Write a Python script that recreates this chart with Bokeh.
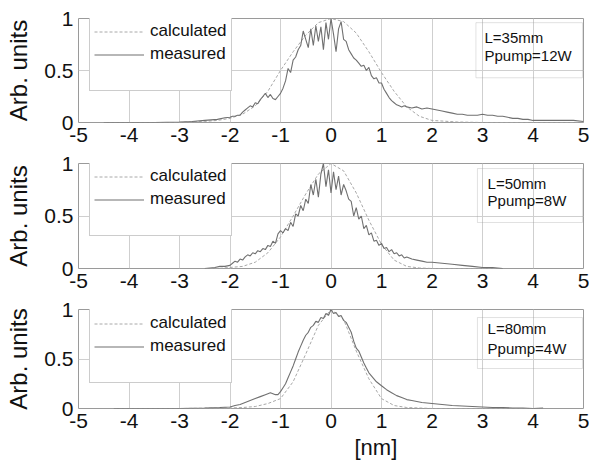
from bokeh.plotting import figure
from bokeh.layouts import column
from bokeh.models import (FixedTicker, Legend, LegendItem, Label, BoxAnnotation, Title)
from bokeh.embed import file_html
from bokeh.resources import INLINE

# ---------------- data ----------------
x_ticks = [-5, -4, -3, -2, -1, 0, 1, 2, 3, 4, 5]
x_tick_labels = ["-5", "-4", "-3", "-2", "-1", "0", "1", "2", "3", "4", "5"]
y_ticks = [0, 0.5, 1]
y_tick_labels = ["0", "0.5", "1"]
legend_labels = ["calculated", "measured"]
notes = [("L=35mm", "Ppump=12W"), ("L=50mm", "Ppump=8W"), ("L=80mm", "Ppump=4W")]
x_label = "[nm]"
y_label = "Arb. units"

# panel 1 (L=35mm)
meas1_x = [-4.5, -4.0, -3.5, -3.0, -2.75, -2.5, -2.25, -2.1,
           -2.00, -1.95, -1.90, -1.85, -1.80, -1.75, -1.70, -1.65, -1.60, -1.55,
           -1.50, -1.45, -1.40, -1.35, -1.30, -1.25, -1.20, -1.15, -1.10, -1.05,
           -1.00, -0.95, -0.90, -0.85, -0.80, -0.75, -0.70, -0.65, -0.60, -0.55,
           -0.50, -0.45, -0.40, -0.35, -0.30, -0.25, -0.20, -0.15, -0.10, -0.05,
           0.00, 0.05, 0.10, 0.15, 0.20, 0.25, 0.30, 0.35, 0.40, 0.45,
           0.50, 0.55, 0.60, 0.65, 0.70, 0.75, 0.80, 0.85, 0.90, 0.95,
           1.00, 1.05, 1.10, 1.15, 1.20, 1.25, 1.30, 1.35, 1.40, 1.45, 1.50,
           1.6, 1.7, 1.8, 1.9, 2.0, 2.1, 2.2, 2.3, 2.4, 2.5, 2.6, 2.7, 2.8, 2.9,
           3.0, 3.1, 3.2, 3.3, 3.4, 3.5, 3.6, 3.7, 3.8, 3.9, 4.0, 4.2, 4.4, 4.6, 4.8, 5.0]
meas1_y = [0.0, 0.0, 0.0, 0.005, 0.01, 0.02, 0.03, 0.045,
           0.05, 0.06, 0.06, 0.07, 0.07, 0.10, 0.12, 0.14, 0.16, 0.15,
           0.19, 0.18, 0.22, 0.25, 0.28, 0.24, 0.27, 0.23, 0.22, 0.25,
           0.28, 0.33, 0.40, 0.52, 0.48, 0.60, 0.63, 0.70, 0.74, 0.88,
           0.80, 0.72, 0.90, 0.74, 0.93, 0.78, 0.92, 0.70, 0.96, 0.80,
           1.00, 0.85, 0.68, 0.90, 0.97, 0.80, 0.78, 0.70, 0.66, 0.62,
           0.60, 0.57, 0.54, 0.55, 0.50, 0.53, 0.45, 0.42, 0.43, 0.38,
           0.38, 0.32, 0.28, 0.24, 0.21, 0.19, 0.17, 0.16, 0.15, 0.16, 0.15,
           0.14, 0.15, 0.13, 0.14, 0.13, 0.12, 0.11, 0.10, 0.09, 0.08, 0.08, 0.07, 0.07, 0.07,
           0.08, 0.07, 0.07, 0.06, 0.06, 0.05, 0.04, 0.04, 0.03, 0.03, 0.02, 0.02, 0.02, 0.02, 0.02, 0.01]
calc1_x = [-4.5, -4.0, -3.5, -3.0, -2.5, -2.25, -2.0, -1.75, -1.5, -1.25, -1.0, -0.75,
           -0.5, -0.25, 0.0, 0.25, 0.5, 0.75, 1.0, 1.25, 1.5, 1.75, 2.0, 2.5, 3.0,
           3.5, 4.0, 4.5, 5.0]
calc1_y = [0.0, 0.0, 0.0, 0.0, 0.01, 0.02, 0.04, 0.08, 0.16, 0.30, 0.50, 0.68,
           0.84, 0.96, 1.00, 0.97, 0.86, 0.68, 0.48, 0.30, 0.15, 0.06, 0.02, 0.005, 0.0,
           0.0, 0.0, 0.0, 0.0]

# panel 2 (L=50mm)
meas2_x = [-2.5, -2.3, -2.2, -2.1,
           -2.00, -1.95, -1.90, -1.85, -1.80, -1.75, -1.70, -1.65, -1.60, -1.55,
           -1.50, -1.45, -1.40, -1.35, -1.30, -1.25, -1.20, -1.15, -1.10, -1.05,
           -1.00, -0.95, -0.90, -0.85, -0.80, -0.75, -0.70, -0.65, -0.60, -0.55,
           -0.50, -0.45, -0.40, -0.35, -0.30, -0.25, -0.20, -0.15, -0.10, -0.05,
           0.00, 0.05, 0.10, 0.15, 0.20, 0.25, 0.30, 0.35, 0.40, 0.45,
           0.50, 0.55, 0.60, 0.65, 0.70, 0.75, 0.80, 0.85, 0.90, 0.95,
           1.00, 1.05, 1.10, 1.15, 1.20, 1.25, 1.30, 1.35, 1.40, 1.45, 1.50,
           1.6, 1.7, 1.8, 1.9, 2.0, 2.2, 2.4, 2.6, 2.8, 3.0, 3.2, 3.4]
meas2_y = [0.0, 0.01, 0.02, 0.02,
           0.03, 0.05, 0.07, 0.06, 0.09, 0.08, 0.11, 0.13, 0.12, 0.15,
           0.14, 0.17, 0.16, 0.19, 0.18, 0.22, 0.21, 0.26, 0.24, 0.33,
           0.36, 0.34, 0.38, 0.36, 0.44, 0.40, 0.52, 0.50, 0.60, 0.55,
           0.66, 0.62, 0.80, 0.70, 0.85, 0.68, 0.90, 1.00, 0.78, 0.94,
           0.72, 0.92, 0.75, 0.88, 0.70, 0.80, 0.74, 0.66, 0.64, 0.50,
           0.58, 0.47, 0.50, 0.38, 0.41, 0.32, 0.34, 0.26, 0.27, 0.22,
           0.24, 0.19, 0.20, 0.16, 0.18, 0.14, 0.15, 0.12, 0.13, 0.10, 0.11,
           0.09, 0.08, 0.07, 0.06, 0.06, 0.05, 0.04, 0.03, 0.02, 0.01, 0.01, 0.0]
calc2_x = [-2.5, -2.25, -2.0, -1.75, -1.5, -1.25, -1.0, -0.75, -0.5, -0.25, 0.0,
           0.25, 0.5, 0.75, 1.0, 1.25, 1.5, 1.75, 2.0, 2.5, 3.0, 3.3]
calc2_y = [0.0, 0.0, 0.01, 0.02, 0.06, 0.15, 0.30, 0.50, 0.71, 0.90, 1.00,
           0.93, 0.72, 0.46, 0.23, 0.08, 0.02, 0.005, 0.0, 0.0, 0.0, 0.0]

# panel 3 (L=80mm)
meas3_x = [-4.3, -4.0, -3.5, -3.0, -2.5, -2.2, -2.0,
           -1.90, -1.80, -1.70, -1.60, -1.50, -1.40, -1.30, -1.20, -1.15, -1.10,
           -1.05, -1.00, -0.95, -0.90, -0.85, -0.80, -0.75, -0.70, -0.65, -0.60,
           -0.55, -0.50, -0.45, -0.40, -0.35, -0.30, -0.25, -0.20, -0.15, -0.10,
           -0.05, 0.00, 0.05, 0.10, 0.15, 0.20, 0.25, 0.30, 0.35, 0.40,
           0.45, 0.50, 0.55, 0.60, 0.65, 0.70, 0.75, 0.80, 0.85, 0.90,
           0.95, 1.00, 1.10, 1.20, 1.30, 1.40, 1.50,
           1.6, 1.8, 2.0, 2.2, 2.4, 2.6, 2.8, 3.0, 3.2, 3.4, 3.6, 3.8, 4.0, 4.2]
meas3_y = [0.0, 0.0, 0.0, 0.0, 0.005, 0.01, 0.015,
           0.03, 0.04, 0.06, 0.08, 0.10, 0.12, 0.14, 0.16, 0.15, 0.14,
           0.14, 0.17, 0.21, 0.25, 0.31, 0.37, 0.43, 0.50, 0.57, 0.63,
           0.69, 0.74, 0.77, 0.82, 0.84, 0.88, 0.87, 0.92, 0.91, 0.96,
           0.94, 1.00, 0.96, 0.97, 0.93, 0.94, 0.89, 0.87, 0.82, 0.77,
           0.68, 0.61, 0.58, 0.52, 0.46, 0.41, 0.36, 0.33, 0.30, 0.27,
           0.25, 0.23, 0.19, 0.16, 0.13, 0.11, 0.09,
           0.08, 0.06, 0.05, 0.04, 0.03, 0.025, 0.02, 0.015, 0.01, 0.01, 0.005, 0.005, 0.0, 0.005]
calc3_x = [-4.3, -3.0, -2.0, -1.75, -1.5, -1.25, -1.0, -0.75, -0.5, -0.25, 0.0,
           0.25, 0.5, 0.75, 1.0, 1.25, 1.5, 2.0, 3.0, 4.0]
calc3_y = [0.0, 0.0, 0.005, 0.01, 0.02, 0.05, 0.10, 0.27, 0.55, 0.84, 1.00,
           0.90, 0.58, 0.30, 0.10, 0.03, 0.01, 0.0, 0.0, 0.0]

panels = [(meas1_x, meas1_y, calc1_x, calc1_y),
          (meas2_x, meas2_y, calc2_x, calc2_y),
          (meas3_x, meas3_y, calc3_x, calc3_y)]

# ---------------- styling ----------------
FONT = "Liberation Sans"
frame_heights = [104, 105, 99]
top_borders = [18, 10, 10]
bottom_borders = [31, 31, 54]
legend_bottoms = [31, 32, 25]
note_box = [(2.87, 0.96, 0.43), (2.90, 0.952, 0.438), (2.90, 0.919, 0.404)]
note_text = [(3.04, 0.817, 0.644), (3.10, 0.81, 0.648), (3.10, 0.808, 0.606)]

figs = []
for i, (mx, my, cx, cy) in enumerate(panels):
    fh = frame_heights[i]
    p = figure(frame_width=505, frame_height=fh,
               x_range=(-5, 5), y_range=(0, 1),
               min_border_left=78, min_border_right=6,
               min_border_top=top_borders[i], min_border_bottom=bottom_borders[i],
               output_backend="svg", toolbar_location=None,
               background_fill_color="white", border_fill_color="white")
    p.outline_line_color = "#9a9a9a"
    p.outline_line_width = 1

    p.xaxis.ticker = FixedTicker(ticks=x_ticks)
    p.yaxis.ticker = FixedTicker(ticks=y_ticks)
    p.xaxis.major_label_overrides = {t: s for t, s in zip(x_ticks, x_tick_labels)}
    p.yaxis.major_label_overrides = {t: s for t, s in zip(y_ticks, y_tick_labels)}
    for ax in (p.xaxis[0], p.yaxis[0]):
        ax.axis_line_color = None
        ax.major_tick_line_color = None
        ax.minor_tick_line_color = None
        ax.major_tick_out = 0
        ax.major_tick_in = 0
        ax.major_label_text_font = FONT
        ax.major_label_text_font_size = "21px"
        ax.major_label_text_color = "#111111"
    p.xaxis.major_label_standoff = 5
    p.yaxis.major_label_standoff = 5
    p.yaxis.axis_label = y_label
    p.yaxis.axis_label_text_font = FONT
    p.yaxis.axis_label_text_font_size = "24px"
    p.yaxis.axis_label_text_font_style = "normal"
    p.yaxis.axis_label_text_color = "#111111"
    p.yaxis.axis_label_standoff = 9

    p.xgrid.grid_line_color = "#cfcfcf"
    p.ygrid.grid_line_color = "#cfcfcf"
    p.xgrid.grid_line_width = 1
    p.ygrid.grid_line_width = 1

    r_calc = p.line(cx, cy, line_color="#a8a8a8", line_width=1, line_dash="3 2")
    r_meas = p.line(mx, my, line_color="#707070", line_width=1.1)
    r_blank = p.line([], [], line_alpha=0)

    # annotation box with parameters
    bx, btop, bbot = note_box[i]
    p.add_layout(BoxAnnotation(left=bx, right=4.98, top=btop, bottom=bbot,
                               fill_alpha=0, line_color="#9a9a9a", line_width=1))
    tx, ty1, ty2 = note_text[i]
    for txt, ty in zip(notes[i], (ty1, ty2)):
        p.add_layout(Label(x=tx, y=ty, text=txt, text_baseline="middle",
                           text_align="left", text_font=FONT,
                           text_font_size="15px", text_color="#111111"))

    legend = Legend(items=[LegendItem(label=legend_labels[0], renderers=[r_calc]),
                           LegendItem(label=legend_labels[1], renderers=[r_meas]),
                           LegendItem(label=" ", renderers=[r_blank])],
                    location=(11, legend_bottoms[i]),
                    glyph_width=50, glyph_height=19, label_height=19,
                    label_standoff=6, spacing=3, padding=4, margin=0,
                    label_text_font=FONT, label_text_font_size="17px",
                    label_text_color="#111111",
                    border_line_color="#9a9a9a", border_line_width=1,
                    background_fill_color="white", background_fill_alpha=1)
    p.add_layout(legend)

    if i == 2:
        p.add_layout(Title(text=x_label, align="left", offset=276, standoff=4,
                           text_font=FONT, text_font_size="22px",
                           text_font_style="normal", text_color="#111111"),
                     "below")
    figs.append(p)

layout = column(*figs, spacing=0)
open("out.html", "w").write(file_html(layout, INLINE))
